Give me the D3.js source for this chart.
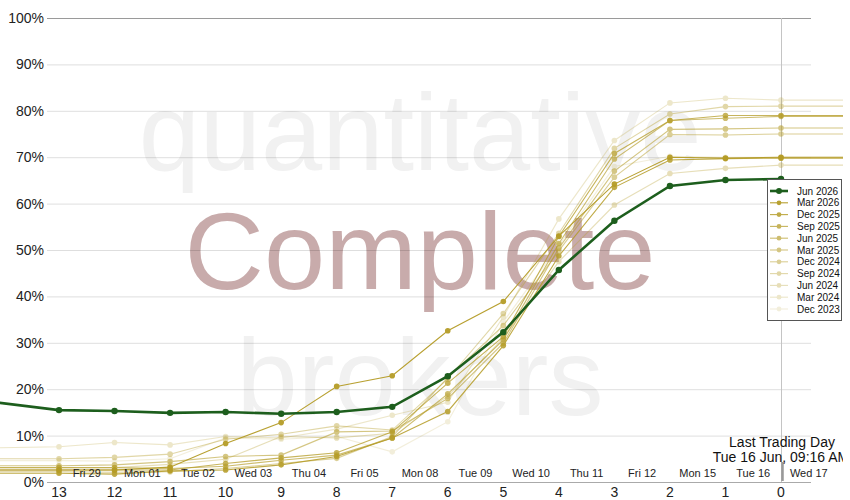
<!DOCTYPE html>
<html>
<head>
<meta charset="utf-8">
<script src="https://cdn.jsdelivr.net/npm/d3@7"></script>
<style>
  html, body { margin: 0; padding: 0; background: #fff; }
  svg { display: block; font-family: "Liberation Sans", Arial, sans-serif; }
</style>
</head>
<body>
<svg id="chart" width="850" height="500"></svg>
<script>
// ---- data ----
const days = [15, 13, 12, 11, 10, 9, 8, 7, 6, 5, 4, 3, 2, 1, 0, -2];
const tickDays = [13, 12, 11, 10, 9, 8, 7, 6, 5, 4, 3, 2, 1, 0];
const dayLabels = ["Fri 29", "Mon 01", "Tue 02", "Wed 03", "Thu 04", "Fri 05", "Mon 08",
                   "Tue 09", "Wed 10", "Thu 11", "Fri 12", "Mon 15", "Tue 16", "Wed 17"];
const yTicks = [0, 10, 20, 30, 40, 50, 60, 70, 80, 90, 100];
const seriesNames = ["Jun 2026", "Mar 2026", "Dec 2025", "Sep 2025", "Jun 2025", "Mar 2025",
                     "Dec 2024", "Sep 2024", "Jun 2024", "Mar 2024", "Dec 2023"];
const jun2026 = [18.4, 15.5, 15.3, 14.9, 15.1, 14.7, 15.1, 16.2, 22.8, 32.3, 45.7, 56.3, 63.8, 65.1, 65.3, null];
const mar2026 = [2.6, 2.6, 2.6, 3.2, 8.3, 12.8, 20.6, 22.9, 32.6, 38.9, 53.0, 64.2, 70.0, 69.8, 70.0, 70.0];
const dec2025 = [1.9, 1.9, 1.7, 2.4, 2.6, 3.7, 5.5, 9.5, 15.2, 29.4, 48.7, 63.5, 69.4, 69.7, 69.8, 69.8];
const sep2025 = [2.6, 2.6, 2.6, 2.6, 4.0, 5.2, 6.3, 10.8, 21.3, 31.3, 52.9, 70.8, 77.9, 79.0, 79.0, 79.0];
const jun2025 = [3.1, 3.1, 3.1, 2.9, 3.4, 4.7, 5.8, 9.5, 19.0, 30.6, 51.4, 69.6, 77.9, 78.4, 78.8, 78.8];
const mar2025 = [3.5, 3.5, 3.7, 4.4, 5.5, 5.8, 10.8, 11.0, 18.0, 29.9, 50.4, 67.0, 76.0, 76.1, 76.3, 76.3];
const dec2024 = [2.2, 2.2, 2.1, 2.2, 2.9, 4.0, 5.1, 9.8, 22.5, 33.7, 49.8, 65.7, 74.9, 74.8, 75.0, 75.0];
const sep2024 = [5.0, 5.0, 5.3, 6.0, 9.2, 10.3, 12.1, 11.2, 22.2, 36.3, 53.6, 71.9, 79.3, 80.9, 81.0, 81.0];
const jun2024 = [3.1, 3.1, 3.1, 3.8, 4.9, 9.8, 9.5, 10.5, 18.5, 31.0, 47.5, 59.7, 66.5, 67.6, 68.3, 68.3];
const mar2024 = [7.2, 7.6, 8.5, 8.0, 9.8, 9.5, 11.4, 14.4, 17.2, 35.6, 56.7, 73.6, 81.7, 82.7, 82.3, 82.3];
const dec2023 = [4.6, 4.6, 4.5, 5.0, 9.5, 9.2, 9.8, 6.5, 13.0, 34.5, 51.0, 68.0, 70.2, 70.0, 70.0, 70.0];
const goldValues = [mar2026, dec2025, sep2025, jun2025, mar2025, dec2024, sep2024, jun2024, mar2024, dec2023];
const goldOpacity = [0.95, 0.85, 0.75, 0.66, 0.57, 0.48, 0.4, 0.32, 0.24, 0.16];

// ---- chart ----
const svg = d3.select("#chart");
const x = d3.scaleLinear().domain([13, 0]).range([59, 781]);
const y = d3.scaleLinear().domain([0, 100]).range([482, 18]);
const gridX0 = 47, gridX1 = 811;
const GOLD = "#b59c26", GREEN = "#1d5e1d";

svg.append("defs").append("clipPath").attr("id", "clip")
  .append("rect").attr("x", 0).attr("y", 0).attr("width", 843).attr("height", 500);

// watermarks
const wm = svg.append("g").attr("font-size", 110).attr("text-anchor", "middle");
wm.append("text").attr("x", 420).attr("y", 170).attr("fill", "#f1f1f1").text("quantitative");
wm.append("text").attr("x", 420).attr("y", 415).attr("fill", "#f1f1f1").text("brokers");

// gridlines
svg.append("g").selectAll("line").data(yTicks).join("line")
  .attr("x1", gridX0).attr("x2", gridX1)
  .attr("y1", d => y(d) + 0.5).attr("y2", d => y(d) + 0.5)
  .attr("stroke", d => d === 100 ? "#9a9a9a" : (d === 0 ? "#aaaaaa" : "#000"))
  .attr("stroke-opacity", d => (d === 100 || d === 0) ? 1 : 0.13)
  .attr("stroke-width", 1);

// "Complete" watermark (semi-transparent, over gridlines)
wm.append("text").attr("x", 420).attr("y", 289).attr("fill", "rgba(140,80,80,0.48)").text("Complete");

// vertical last-day line
svg.append("line").attr("x1", x(0) + 0.5).attr("x2", x(0) + 0.5).attr("y1", 18).attr("y2", 482)
  .attr("stroke", "#c4c4c4").attr("stroke-width", 1);
svg.append("line").attr("x1", x(0) + 1.5).attr("x2", x(0) + 1.5).attr("y1", 462).attr("y2", 481)
  .attr("stroke", "#999").attr("stroke-width", 2.5);

// series
const plot = svg.append("g").attr("clip-path", "url(#clip)");
const line = d3.line().defined(d => d.v !== null).x(d => x(d.day)).y(d => y(d.v));
function toPts(arr) { return days.map((day, i) => ({ day, v: arr[i] })); }

for (let s = goldValues.length - 1; s >= 0; s--) {
  const pts = toPts(goldValues[s]);
  const g = plot.append("g").attr("opacity", goldOpacity[s]);
  g.append("path").datum(pts).attr("d", line).attr("fill", "none")
    .attr("stroke", GOLD).attr("stroke-width", 1.1);
  g.selectAll("circle").data(pts.filter(d => d.v !== null)).join("circle")
    .attr("cx", d => x(d.day)).attr("cy", d => y(d.v)).attr("r", 2.8).attr("fill", GOLD);
}
{
  const pts = toPts(jun2026);
  plot.append("path").datum(pts).attr("d", line).attr("fill", "none")
    .attr("stroke", GREEN).attr("stroke-width", 2.6);
  plot.selectAll("circle.g").data(pts.filter(d => d.v !== null && d.day <= 13)).join("circle")
    .attr("class", "g").attr("cx", d => x(d.day)).attr("cy", d => y(d.v)).attr("r", 3.2).attr("fill", GREEN);
}

// y axis labels
svg.append("g").selectAll("text").data(yTicks).join("text")
  .attr("x", 44).attr("y", d => y(d)).attr("dy", "0.36em")
  .attr("text-anchor", "end").attr("font-size", 14).attr("fill", "#222")
  .text(d => d + "%");

// x axis tick labels
svg.append("g").selectAll("text").data(tickDays).join("text")
  .attr("x", d => x(d)).attr("y", 497)
  .attr("text-anchor", "middle").attr("font-size", 14).attr("fill", "#222")
  .text(d => d);

// day labels between ticks
svg.append("g").selectAll("text").data(dayLabels).join("text")
  .attr("x", (d, i) => x(13 - i - 0.5)).attr("y", 477)
  .attr("text-anchor", "middle").attr("font-size", 11).attr("fill", "#222")
  .attr("textLength", null)
  .text(d => d);

// last trading day text
const ltd = svg.append("g").attr("clip-path", "url(#clip)")
  .attr("font-size", 14).attr("fill", "#111").attr("text-anchor", "middle");
ltd.append("text").attr("x", 782).attr("y", 447).text("Last Trading Day");
ltd.append("text").attr("x", 781).attr("y", 462).text("Tue 16 Jun, 09:16 AM");

// legend
const lg = svg.append("g");
lg.append("rect").attr("x", 767.5).attr("y", 179.5).attr("width", 74).attr("height", 141)
  .attr("fill", "#fff").attr("stroke", "#555").attr("stroke-width", 1);
seriesNames.forEach((name, i) => {
  const ly = 191 + i * 11.8;
  const isGreen = i === 0;
  const g = lg.append("g").attr("opacity", isGreen ? 1 : goldOpacity[i - 1]);
  g.append("line").attr("x1", 770).attr("x2", 788).attr("y1", ly).attr("y2", ly)
    .attr("stroke", isGreen ? GREEN : GOLD).attr("stroke-width", isGreen ? 2.6 : 1.1);
  g.append("circle").attr("cx", 779).attr("cy", ly).attr("r", isGreen ? 3 : 2.4)
    .attr("fill", isGreen ? GREEN : GOLD);
  lg.append("text").attr("x", 797).attr("y", ly).attr("dy", "0.35em")
    .attr("font-size", 10).attr("fill", "#111").text(name);
});
</script>
</body>
</html>
